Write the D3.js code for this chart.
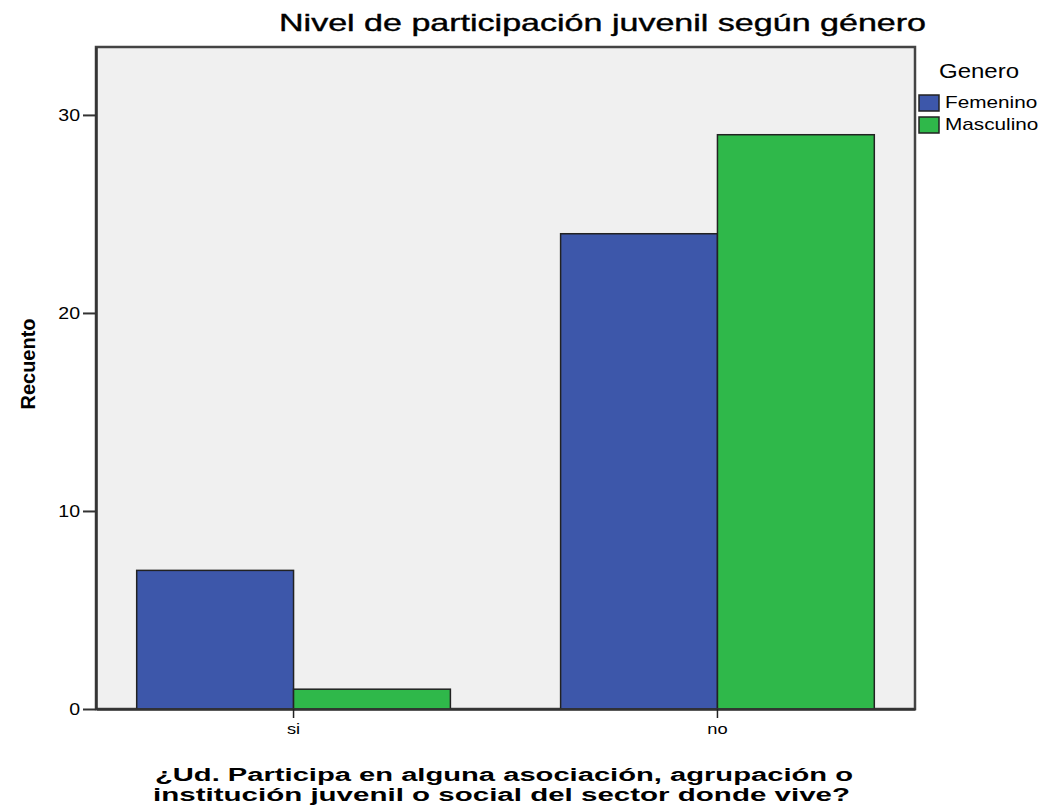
<!DOCTYPE html>
<html><head><meta charset="utf-8">
<script src="https://cdn.jsdelivr.net/npm/d3@7"></script>
<style>body{margin:0;background:#fff}svg{display:block}text{font-family:"Liberation Sans",Arial,sans-serif;fill:#000}</style>
</head><body><svg id="c" width="1042" height="807"></svg>
<script>
const categories = ["si", "no"];
const seriesNames = ["Femenino", "Masculino"];
const femenino = [7, 24];
const masculino = [1, 29];
const yTicks = [0, 10, 20, 30];
const colors = ["#3d57aa", "#2fb84a"];

const svg = d3.select("#c");
const L = 96, R = 915, T = 47, B = 709;
const STRETCH = 1.22;
const stretchText = sel => sel.each(function () {
  const w = this.getComputedTextLength();
  d3.select(this).attr("textLength", w * STRETCH).attr("lengthAdjust", "spacingAndGlyphs");
});

const x = d3.scaleBand().domain(categories).range([L, R]).paddingInner(0.26).paddingOuter(0.096);
const xs = d3.scaleBand().domain(seriesNames).range([0, x.bandwidth()]);
const y = d3.scaleLinear().domain([0, 33.43]).range([B, T]);

svg.append("rect").attr("x", L).attr("y", T).attr("width", R - L).attr("height", B - T)
  .attr("fill", "#f0f0f0").attr("stroke", "#444").attr("stroke-width", 2.5);

const data = categories.map((c, i) => ({c, vals: [femenino[i], masculino[i]]}));
const g = svg.append("g");
data.forEach(d => {
  d.vals.forEach((v, j) => {
    g.append("rect").attr("x", x(d.c) + xs(seriesNames[j])).attr("y", y(v))
      .attr("width", xs.bandwidth()).attr("height", y(0) - y(v))
      .attr("fill", colors[j]).attr("stroke", "#222").attr("stroke-width", 1.5);
  });
});

const ya = svg.append("g").attr("transform", `translate(${L},0)`)
  .call(d3.axisLeft(y).tickValues(yTicks).tickSize(13).tickSizeOuter(0).tickPadding(3).tickFormat(d3.format("d")));
ya.select(".domain").attr("stroke", "#333").attr("stroke-width", 2.5);
ya.selectAll(".tick line").attr("stroke", "#333").attr("stroke-width", 2);
ya.selectAll(".tick text").attr("font-size", 16).attr("fill", "#000").call(stretchText);

const xa = svg.append("g").attr("transform", `translate(0,${B})`)
  .call(d3.axisBottom(x).tickSize(9).tickSizeOuter(0).tickPadding(5));
xa.select(".domain").attr("stroke", "#333").attr("stroke-width", 2.5);
xa.selectAll(".tick line").attr("stroke", "#222").attr("stroke-width", 1.5);
xa.selectAll(".tick text").attr("font-size", 15).attr("fill", "#000").call(stretchText);

svg.append("text").attr("x", 279).attr("y", 31).attr("font-size", 24)
  .attr("stroke", "#000").attr("stroke-width", 0.4)
  .attr("textLength", 647).attr("lengthAdjust", "spacingAndGlyphs")
  .text("Nivel de participación juvenil según género");

svg.append("text").attr("transform", "translate(35,364) rotate(-90)").attr("text-anchor", "middle")
  .attr("font-size", 20).attr("font-weight", "bold").text("Recuento");

svg.append("text").attr("x", 155).attr("y", 780.5).attr("font-size", 18).attr("font-weight", "bold")
  .attr("textLength", 698).attr("lengthAdjust", "spacingAndGlyphs")
  .text("¿Ud. Participa en alguna asociación, agrupación o");
svg.append("text").attr("x", 153).attr("y", 801).attr("font-size", 18).attr("font-weight", "bold")
  .attr("textLength", 697).attr("lengthAdjust", "spacingAndGlyphs")
  .text("institución juvenil o social del sector donde vive?");

const lg = svg.append("g");
lg.append("text").attr("x", 939).attr("y", 78).attr("font-size", 21)
  .attr("textLength", 80).attr("lengthAdjust", "spacingAndGlyphs").text("Genero");
seriesNames.forEach((s, j) => {
  lg.append("rect").attr("x", 919).attr("y", 95 + j * 22).attr("width", 20).attr("height", 16)
    .attr("fill", colors[j]).attr("stroke", "#222").attr("stroke-width", 1.5);
  lg.append("text").attr("x", 945).attr("y", 108 + j * 22).attr("font-size", 17).text(s).call(stretchText);
});
</script></body></html>
